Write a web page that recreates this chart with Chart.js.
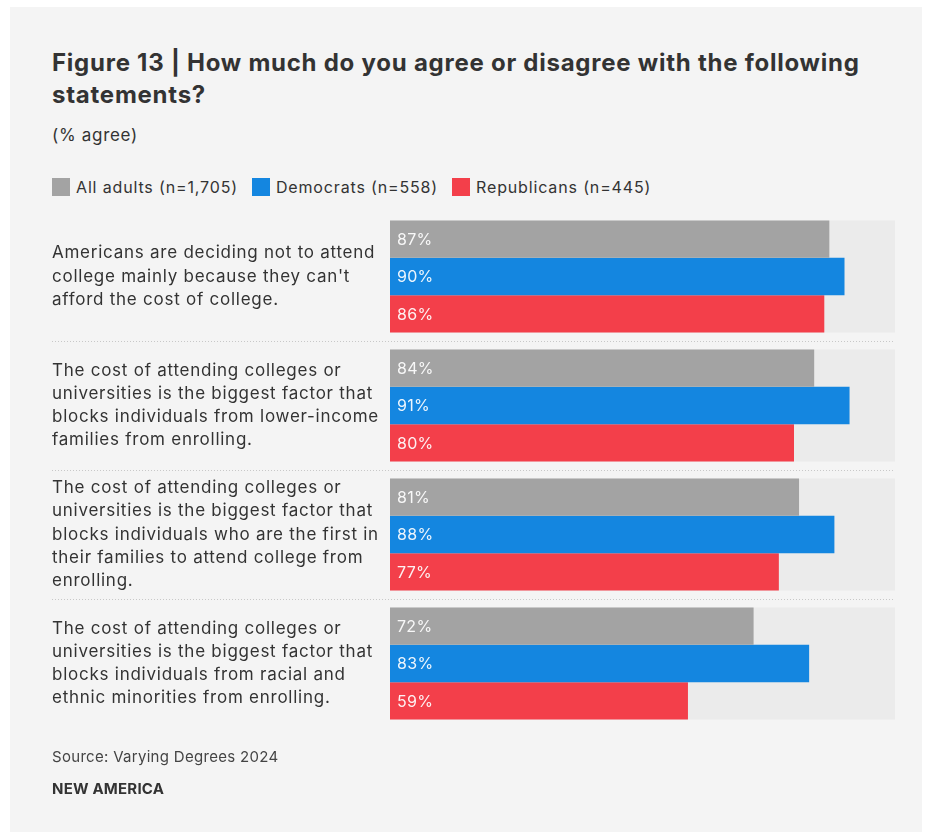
<!DOCTYPE html>
<html>
<head>
<meta charset="utf-8">
<title>Figure 13</title>
<script src="https://cdn.jsdelivr.net/npm/chart.js@4.4.1/dist/chart.umd.min.js"></script>
<style>
    body { margin: 0; background: #ffffff; font-family: Inter, sans-serif; color: #333; }
    #panel { position: absolute; left: 10px; top: 7px; width: 912px; height: 825px; background: #f4f4f4; }
    .abs { position: absolute; margin: 0; white-space: nowrap; }
    #title { left: 52px; top: 47px; font-size: 24px; line-height: 32px; font-weight: 700; color: #333; letter-spacing: 0.75px; }
    #subtitle { left: 52px; top: 124px; font-size: 17px; line-height: 22px; letter-spacing: 0.7px; }
    #legend { left: 52px; top: 176px; display: flex; align-items: center; font-size: 16px; line-height: 22px; letter-spacing: 0.85px; }
    #legend span.item { display: flex; align-items: center; margin-right: 14px; }
    #legend span.box { width: 18px; height: 18px; margin-right: 6px; display: inline-block; }
    #source { left: 52px; top: 747px; font-size: 15px; line-height: 20px; color: #444; letter-spacing: 0.3px; }
    #brand { left: 52px; top: 779px; font-size: 15px; line-height: 20px; font-weight: 700; color: #333; letter-spacing: 0.2px; }
    #canvas-container { position: absolute; left: 52px; top: 152px; width: 843px; height: 626px; }
</style>
</head>
<body>
<div id="panel"></div>
<h1 class="abs" id="title">Figure 13 | How much do you agree or disagree with the following<br>statements?</h1>
<p class="abs" id="subtitle">(% agree)</p>
<div class="abs" id="legend"></div>
<div id="canvas-container"><canvas id="myChart"></canvas></div>
<p class="abs" id="source">Source: Varying Degrees 2024</p>
<p class="abs" id="brand">NEW AMERICA</p>

<script>
// statements (wrapped the same way they appear on the left side)
const statements = [
    ['Americans are deciding not to attend', "college mainly because they can't", 'afford the cost of college.'],
    ['The cost of attending colleges or', 'universities is the biggest factor that', 'blocks individuals from lower-income', 'families from enrolling.'],
    ['The cost of attending colleges or', 'universities is the biggest factor that', 'blocks individuals who are the first in', 'their families to attend college from', 'enrolling.'],
    ['The cost of attending colleges or', 'universities is the biggest factor that', 'blocks individuals from racial and', 'ethnic minorities from enrolling.']
];

// % agree for each group
const allAdults = [87, 84, 81, 72];
const democrats = [90, 91, 88, 83];
const republicans = [86, 80, 77, 59];

const seriesNames = ['All adults (n=1,705)', 'Democrats (n=558)', 'Republicans (n=445)'];
const seriesColors = ['#a3a3a3', '#1486e0', '#f33f4a'];

const CAT_PCT = 0.868;
const FONT = 'Inter, sans-serif';

// a bit of tracking for the statement labels
const spacing = {
    id: 'spacing',
    beforeDraw(chart) {
        chart.ctx.letterSpacing = '0.75px';
    }
};

// light track behind each group + dotted lines between groups
const trackPlugin = {
    id: 'track',
    beforeDatasetsDraw(chart) {
        const ctx = chart.ctx;
        const x = chart.scales.x;
        const y = chart.scales.y;
        const band = (y.bottom - y.top) / statements.length;
        const x0 = x.getPixelForValue(0);
        const x1 = x.getPixelForValue(100);
        ctx.save();
        ctx.fillStyle = '#ebebeb';
        statements.forEach((s, i) => {
            const cy = y.getPixelForValue(i);
            const h = band * CAT_PCT;
            ctx.fillRect(x0, cy - h / 2, x1 - x0, h);
        });
        ctx.strokeStyle = '#c8c8c8';
        ctx.lineWidth = 1;
        ctx.setLineDash([1, 2]);
        for (let i = 0; i < statements.length - 1; i++) {
            const ly = Math.round((y.getPixelForValue(i) + y.getPixelForValue(i + 1)) / 2) + 0.5;
            ctx.beginPath();
            ctx.moveTo(y.left, ly);
            ctx.lineTo(x.right, ly);
            ctx.stroke();
        }
        ctx.restore();
    }
};

// white % labels at the start of each bar
const valueLabels = {
    id: 'valueLabels',
    afterDatasetsDraw(chart) {
        const ctx = chart.ctx;
        ctx.save();
        ctx.letterSpacing = '0.3px';
        ctx.font = '16px ' + FONT;
        ctx.fillStyle = 'rgba(255,255,255,0.92)';
        ctx.textAlign = 'left';
        ctx.textBaseline = 'middle';
        chart.data.datasets.forEach((ds, d) => {
            chart.getDatasetMeta(d).data.forEach((bar, i) => {
                ctx.fillText(ds.data[i] + '%', bar.base + 7, bar.y + 1);
            });
        });
        ctx.restore();
    }
};

// html legend
const legend = document.getElementById('legend');
seriesNames.forEach((name, i) => {
    const item = document.createElement('span');
    item.className = 'item';
    item.innerHTML = '<span class="box" style="background:' + seriesColors[i] + '"></span>' + name;
    legend.appendChild(item);
});

const ctx = document.getElementById('myChart').getContext('2d');
window.myChart = new Chart(ctx, {
    type: 'bar',
    data: {
        labels: statements,
        datasets: [allAdults, democrats, republicans].map((values, i) => ({
            label: seriesNames[i],
            data: values,
            backgroundColor: seriesColors[i],
            borderWidth: 0,
            categoryPercentage: CAT_PCT,
            barPercentage: 1
        }))
    },
    options: {
        indexAxis: 'y',
        responsive: true,
        maintainAspectRatio: false,
        animation: false,
        // room for the first/last multi-line labels so the plot starts at the top
        layout: { padding: { top: 60, bottom: 50, left: 0, right: 0 } },
        plugins: {
            legend: { display: false },
            tooltip: { enabled: false }
        },
        scales: {
            x: { min: 0, max: 100, display: false },
            y: {
                grid: { display: false },
                border: { display: false },
                ticks: {
                    autoSkip: false,
                    crossAlign: 'far',
                    color: '#333',
                    font: { family: FONT, size: 17, lineHeight: 1.36 }
                },
                afterFit(scale) { scale.width = 338; }
            }
        }
    },
    plugins: [spacing, trackPlugin, valueLabels]
});
</script>
</body>
</html>
